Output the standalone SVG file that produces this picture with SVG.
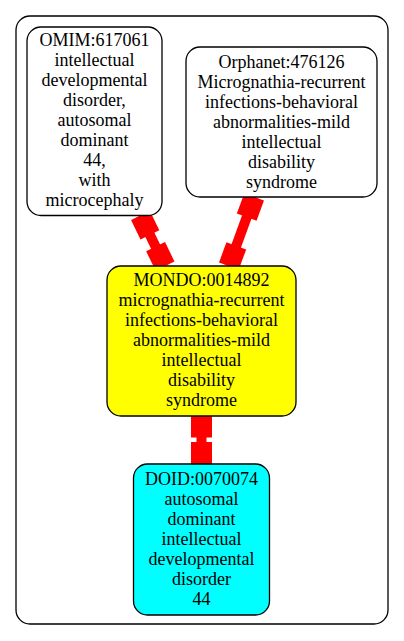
<svg xmlns="http://www.w3.org/2000/svg" width="404" height="641" viewBox="0 0 404 641">
<style>
.frame{fill:#fff;stroke:#000;stroke-width:1.3}
.node{stroke:#000;stroke-width:1.3}
.t{font-family:"Liberation Serif","Times New Roman",serif;font-size:18px;fill:#000;text-anchor:middle}
.ln{stroke:#f00;stroke-width:10;stroke-linecap:butt;fill:none}
.bx{stroke:#f00;stroke-width:21;stroke-linecap:butt;fill:none}
</style>
<rect x="0" y="0" width="404" height="641" fill="#fff"/>
<rect class="frame" x="16" y="16" width="372" height="608" rx="14" ry="14"/>
<g id="connectors">
  <g id="e-omim-mondo">
    <line class="ln" x1="140.5" y1="215.5" x2="165" y2="266"/>
    <line class="bx" x1="140.5" y1="215.5" x2="149.9" y2="234.8"/>
    <line class="bx" x1="155.6" y1="246.7" x2="165" y2="266"/>
  </g>
  <g id="e-orphanet-mondo">
    <line class="ln" x1="254.1" y1="197" x2="228.9" y2="266"/>
    <line class="bx" x1="254.1" y1="197" x2="246.7" y2="217.2"/>
    <line class="bx" x1="236.3" y1="245.8" x2="228.9" y2="266"/>
  </g>
  <g id="e-mondo-doid">
    <line class="ln" x1="201.5" y1="416" x2="201.5" y2="464"/>
    <line class="bx" x1="201.5" y1="416" x2="201.5" y2="437.5"/>
    <line class="bx" x1="201.5" y1="442" x2="201.5" y2="464"/>
  </g>
</g>
<g id="omim">
  <rect class="node" x="27" y="27" width="135" height="188.5" rx="14" ry="14" fill="#fff"/>
  <text class="t" x="94.5"><tspan x="94.5" y="46">OMIM:617061</tspan><tspan x="94.5" y="66">intellectual</tspan><tspan x="94.5" y="86">developmental</tspan><tspan x="94.5" y="106">disorder,</tspan><tspan x="94.5" y="126">autosomal</tspan><tspan x="94.5" y="146">dominant</tspan><tspan x="94.5" y="166">44,</tspan><tspan x="94.5" y="186">with</tspan><tspan x="94.5" y="206">microcephaly</tspan></text>
</g>
<g id="orphanet">
  <rect class="node" x="186" y="47" width="191" height="150" rx="14" ry="14" fill="#fff"/>
  <text class="t"><tspan x="281.5" y="67.5">Orphanet:476126</tspan><tspan x="281.5" y="87.5">Micrognathia-recurrent</tspan><tspan x="281.5" y="107.5">infections-behavioral</tspan><tspan x="281.5" y="127.5">abnormalities-mild</tspan><tspan x="281.5" y="147.5">intellectual</tspan><tspan x="281.5" y="167.5">disability</tspan><tspan x="281.5" y="187.5">syndrome</tspan></text>
</g>
<g id="mondo">
  <rect class="node" x="107" y="266" width="189" height="150" rx="14" ry="14" fill="#ff0"/>
  <text class="t"><tspan x="201.5" y="286">MONDO:0014892</tspan><tspan x="201.5" y="306">micrognathia-recurrent</tspan><tspan x="201.5" y="326">infections-behavioral</tspan><tspan x="201.5" y="346">abnormalities-mild</tspan><tspan x="201.5" y="366">intellectual</tspan><tspan x="201.5" y="386">disability</tspan><tspan x="201.5" y="406">syndrome</tspan></text>
</g>
<g id="doid">
  <rect class="node" x="133.5" y="464" width="136" height="151" rx="14" ry="14" fill="#0ff"/>
  <text class="t"><tspan x="201.5" y="484.5">DOID:0070074</tspan><tspan x="201.5" y="504.5">autosomal</tspan><tspan x="201.5" y="524.5">dominant</tspan><tspan x="201.5" y="544.5">intellectual</tspan><tspan x="201.5" y="564.5">developmental</tspan><tspan x="201.5" y="584.5">disorder</tspan><tspan x="201.5" y="604.5">44</tspan></text>
</g>
</svg>
